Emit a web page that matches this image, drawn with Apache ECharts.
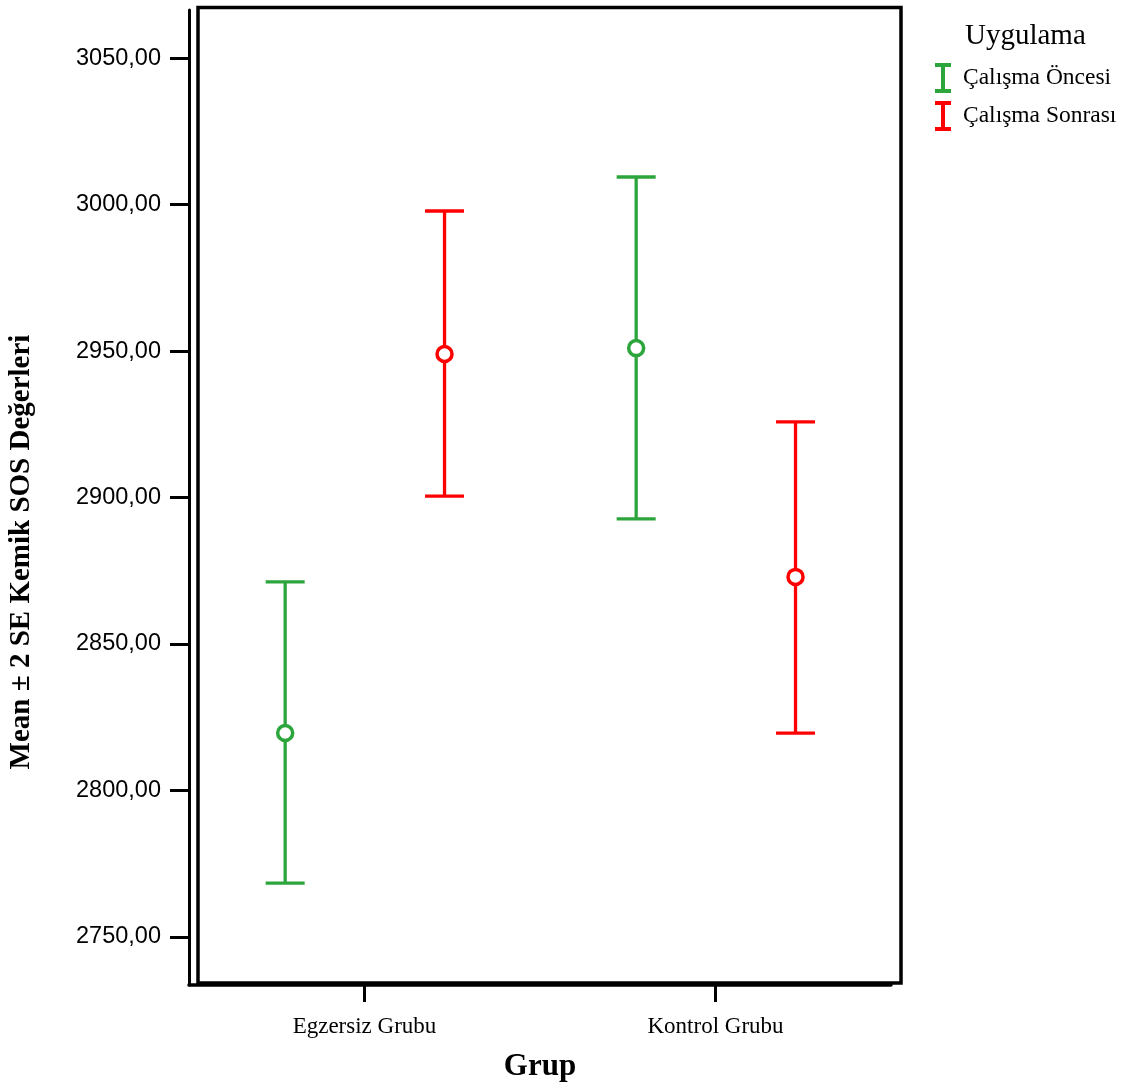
<!DOCTYPE html>
<html><head><meta charset="utf-8">
<script src="https://cdn.jsdelivr.net/npm/echarts@6/dist/echarts.min.js"></script>
<style>html,body{margin:0;padding:0;background:#fff}#c{width:1131px;height:1086px}</style>
</head><body><div id="c"></div>
<script>
const categories = ['Egzersiz Grubu', 'Kontrol Grubu'];
const seriesNames = ['Çalışma Öncesi', 'Çalışma Sonrası'];
const onceMean = [2819.6, 2951.0];
const onceLower = [2768.4, 2892.7];
const onceUpper = [2871.2, 3009.4];
const sonraMean = [2949.0, 2872.9];
const sonraLower = [2900.5, 2819.6];
const sonraUpper = [2997.8, 2925.8];
const yTicks = [2750, 2800, 2850, 2900, 2950, 3000, 3050];

const colors = ['#2ca53c', '#ff0000'];
const offsets = [-0.226, 0.228];

function buildData(mean, lower, upper) {
  return categories.map((c, i) => [i, mean[i], lower[i], upper[i]]);
}

function makeRender(k) {
  return function (params, api) {
    const x = api.value(0), m = api.value(1), lo = api.value(2), hi = api.value(3);
    const band = api.size([1, 0])[0];
    const pm = api.coord([x, m]);
    const pl = api.coord([x, lo]);
    const ph = api.coord([x, hi]);
    const cx = pm[0] + band * offsets[k];
    const hw = 19.5, r = 7.5;
    const st = { stroke: colors[k], lineWidth: 3.3, fill: null };
    return {
      type: 'group',
      children: [
        { type: 'line', shape: { x1: cx, y1: ph[1], x2: cx, y2: pm[1] - r }, style: st },
        { type: 'line', shape: { x1: cx, y1: pm[1] + r, x2: cx, y2: pl[1] }, style: st },
        { type: 'line', shape: { x1: cx - hw, y1: ph[1], x2: cx + hw, y2: ph[1] }, style: st },
        { type: 'line', shape: { x1: cx - hw, y1: pl[1], x2: cx + hw, y2: pl[1] }, style: st },
        { type: 'circle', shape: { cx: cx, cy: pm[1], r: r }, style: { stroke: colors[k], lineWidth: 3.5, fill: 'transparent' } }
      ]
    };
  };
}

const chart = echarts.init(document.getElementById('c'));
const serif = '"Liberation Serif", "Times New Roman", serif';
const sans = '"Liberation Sans", Arial, sans-serif';
const iPath = 'path://M0,0H16V4H10V26H16V30H0V26H6V4H0Z';

chart.setOption({
  animation: false,
  backgroundColor: '#fff',
  grid: { left: 189, top: 10, right: 1131 - 891, bottom: 1086 - 985, containLabel: false, outerBoundsMode: 'none' },
  legend: {
    orient: 'vertical', left: 930, top: 58,
    itemWidth: 16, itemHeight: 30, itemGap: 8,
    textStyle: { fontFamily: serif, fontSize: 23.5, color: '#000', padding: [0, 0, 0, 7] },
    data: [
      { name: seriesNames[0], icon: iPath },
      { name: seriesNames[1], icon: iPath }
    ]
  },
  xAxis: {
    type: 'category', data: categories, boundaryGap: true,
    name: 'Grup', nameLocation: 'middle', nameGap: 66,
    nameTextStyle: { fontFamily: serif, fontSize: 31, fontWeight: 'bold', color: '#000' },
    axisLine: { show: true, lineStyle: { color: '#000', width: 3.5 } },
    axisTick: { show: true, alignWithLabel: true, interval: 0, length: 17, lineStyle: { color: '#000', width: 3 } },
    axisLabel: { margin: 30, fontFamily: serif, fontSize: 23, color: '#000' },
    splitLine: { show: false }
  },
  yAxis: {
    type: 'value', min: 2733.6, max: 3066.4,
    axisLine: { show: true, lineStyle: { color: '#000', width: 3 } },
    axisTick: { show: true, length: 19, customValues: yTicks, lineStyle: { color: '#000', width: 3 } },
    axisLabel: { margin: 28, customValues: yTicks, fontFamily: sans, fontSize: 23.5, color: '#000',
      formatter: v => v.toFixed(2).replace('.', ',') },
    splitLine: { show: false }
  },
  graphic: [
    { type: 'rect', shape: { x: 198, y: 7.5, width: 703, height: 975.5 }, style: { fill: null, stroke: '#000', lineWidth: 3.5 }, z: 10 },
    { type: 'text', x: 22, y: 552, rotation: Math.PI / 2,
      style: { text: 'Mean ± 2 SE Kemik SOS Değerleri', font: 'bold 29px ' + serif, fill: '#000', textAlign: 'center', textVerticalAlign: 'middle' } },
    { type: 'text', x: 965, y: 36,
      style: { text: 'Uygulama', font: '29px ' + serif, fill: '#000', textAlign: 'left', textVerticalAlign: 'middle' } }
  ],
  series: [
    { type: 'custom', name: seriesNames[0], color: colors[0], itemStyle: { color: colors[0] },
      renderItem: makeRender(0), data: buildData(onceMean, onceLower, onceUpper), encode: { x: 0, y: [1, 2, 3] }, z: 5 },
    { type: 'custom', name: seriesNames[1], color: colors[1], itemStyle: { color: colors[1] },
      renderItem: makeRender(1), data: buildData(sonraMean, sonraLower, sonraUpper), encode: { x: 0, y: [1, 2, 3] }, z: 5 }
  ]
});
</script></body></html>
